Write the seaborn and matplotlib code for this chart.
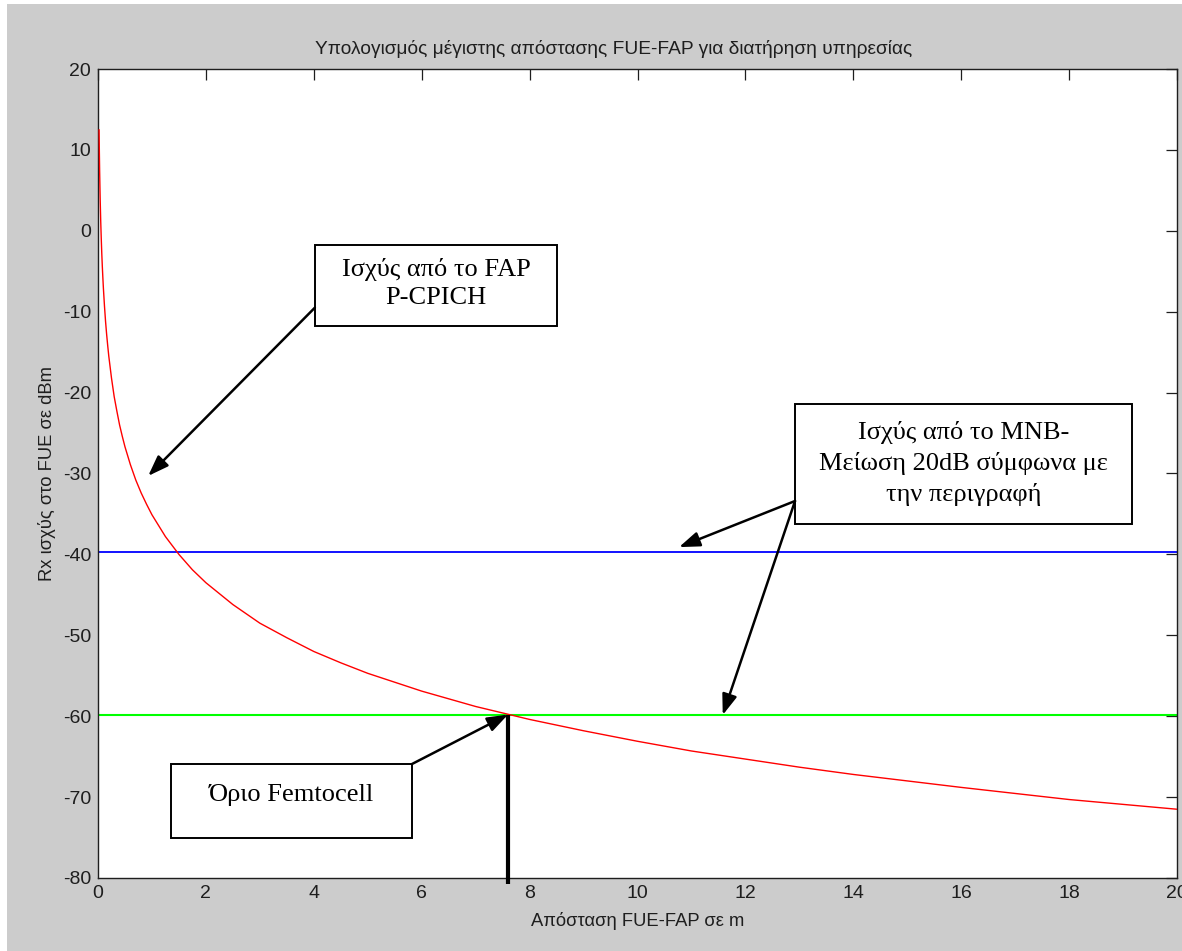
import matplotlib
matplotlib.use("Agg")
import matplotlib.pyplot as plt
from matplotlib.patches import Rectangle
import seaborn as sns
import pandas as pd

# Received power from the femto access point versus FUE-FAP distance
distance_m = [0.02, 0.025, 0.03, 0.035, 0.04, 0.05, 0.06, 0.07, 0.08, 0.09, 0.1,
              0.12, 0.14, 0.16, 0.18, 0.2, 0.25, 0.3, 0.35, 0.4, 0.45, 0.5, 0.6,
              0.7, 0.8, 0.9, 1.0, 1.25, 1.5, 1.75, 2.0, 2.5, 3.0, 3.5, 4.0, 4.5,
              5.0, 6.0, 7.0, 8.0, 9.0, 10.0, 11.0, 12.0, 13.0, 14.0, 16.0, 18.0,
              20.0]
fap_rx_dbm = [12.5, 9.8, 7.5, 5.7, 4.0, 1.3, -0.9, -2.8, -4.4, -5.8, -7.1,
              -9.3, -11.2, -12.8, -14.2, -15.5, -18.2, -20.5, -22.3, -24.0, -25.4,
              -26.7, -28.9, -30.8, -32.4, -33.8, -35.1, -37.8, -40.0, -41.9, -43.5,
              -46.2, -48.5, -50.3, -52.0, -53.4, -54.7, -56.9, -58.8, -60.4, -61.8,
              -63.1, -64.3, -65.3, -66.3, -67.2, -68.8, -70.3, -71.5]

# Macro node power levels (dBm) and the resulting femtocell edge (m)
mnb_rx_dbm = -39.7
mnb_reduced_dbm = -59.8
femto_limit_m = 7.6

x_ticks = [0, 2, 4, 6, 8, 10, 12, 14, 16, 18, 20]
y_ticks = [-80, -70, -60, -50, -40, -30, -20, -10, 0, 10, 20]

title_text = "Υπολογισμός μέγιστης απόστασης FUE-FAP για διατήρηση υπηρεσίας"
x_label = "Απόσταση FUE-FAP σε m"
y_label = "Rx ισχύς στο FUE σε dBm"
note_fap = "Ισχύς από το FAP\nP-CPICH"
note_mnb = "Ισχύς από το MNB-\nΜείωση 20dB σύμφωνα με\nτην περιγραφή"
note_edge = "Όριο Femtocell"

sns.set_theme(style="white")
plt.rcParams["font.family"] = ["Liberation Sans", "DejaVu Sans"]
plt.rcParams["axes.unicode_minus"] = False
serif = ["Liberation Serif", "DejaVu Serif"]
ink = "#1e1e1e"

W, H = 1182, 951
fig = plt.figure(figsize=(W / 100, H / 100), dpi=100, facecolor="white")
fig.patches.append(Rectangle((7 / W, 0), 1, 1 - 4 / H, transform=fig.transFigure,
                             facecolor="#cccccc", edgecolor="none", zorder=-10))
ax = fig.add_axes([98 / W, 1 - 878 / H, 1079 / W, 809 / H])
ax.set_facecolor("white")

df = pd.DataFrame({"d": distance_m, "p": fap_rx_dbm})
sns.lineplot(data=df, x="d", y="p", ax=ax, color="#ff0000", lw=1.0,
             estimator=None, sort=False, zorder=3)
ax.axhline(mnb_rx_dbm, color="#0000ff", lw=1.3, zorder=2)
ax.axhline(mnb_reduced_dbm, color="#00ff00", lw=1.5, zorder=2)

# femtocell edge marker, running just past the bottom axis
ax.plot([femto_limit_m, femto_limit_m], [y_ticks[0] - 0.8, mnb_reduced_dbm],
        color="black", lw=3.0, solid_capstyle="butt", clip_on=False, zorder=6)

ax.set_xlim(x_ticks[0], x_ticks[-1])
ax.set_ylim(y_ticks[0], y_ticks[-1])
ax.set_xticks(x_ticks)
ax.set_yticks(y_ticks)
ax.tick_params(direction="in", length=8, width=0.9, top=True, right=True,
               labelsize=14, colors=ink)
ax.tick_params(axis="x", pad=5)
ax.tick_params(axis="y", pad=5)
for s in ax.spines.values():
    s.set_visible(True)
    s.set_color(ink)
    s.set_linewidth(1.0)

ax.set_title(title_text, fontsize=13.8, color=ink, x=0.478, pad=11)
ax.set_xlabel(x_label, fontsize=13.2, color=ink, labelpad=7)
ax.set_ylabel(y_label, fontsize=13.2, color=ink, labelpad=5)

box_kw = dict(facecolor="white", edgecolor="black", lw=1.4, zorder=7)
txt_kw = dict(ha="center", va="center", fontsize=19, family=serif,
              color="black", zorder=8)
arrow_kw = dict(arrowstyle="-|>,head_length=0.5,head_width=0.18",
                mutation_scale=25, lw=1.8, color="black", shrinkA=0, shrinkB=0)

# FAP curve note
ax.add_patch(Rectangle((4.02, -11.77), 4.49, 10.01, **box_kw))
ax.text(6.27, -6.5, note_fap, linespacing=1.33, **txt_kw)
ax.annotate("", xy=(0.93, -30.3), xytext=(4.02, -9.5), arrowprops=arrow_kw, zorder=7)

# MNB lines note
ax.add_patch(Rectangle((12.92, -36.24), 6.25, 14.83, **box_kw))
ax.text(16.04, -28.8, note_mnb, linespacing=1.45, **txt_kw)
ax.annotate("", xy=(10.77, -39.1), xytext=(12.92, -33.4), arrowprops=arrow_kw, zorder=7)
ax.annotate("", xy=(11.58, -59.85), xytext=(12.92, -33.4), arrowprops=arrow_kw, zorder=7)

# femtocell edge note
ax.add_patch(Rectangle((1.353, -75.06), 4.467, 9.15, **box_kw))
ax.text(3.59, -69.7, note_edge, **txt_kw)
ax.annotate("", xy=(femto_limit_m, mnb_reduced_dbm), xytext=(5.82, -65.91),
            arrowprops=arrow_kw, zorder=7)

fig.savefig("out.png", dpi=100, facecolor=fig.get_facecolor())
